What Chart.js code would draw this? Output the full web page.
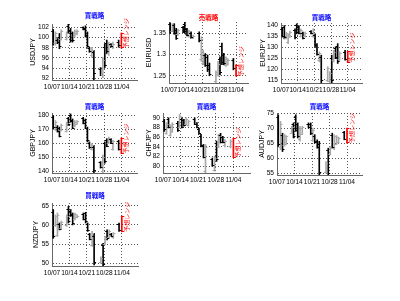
<!DOCTYPE html>
<html><head><meta charset="utf-8">
<script src="https://cdn.jsdelivr.net/npm/chart.js@4"></script>
<style>
html,body{margin:0;padding:0;background:#fff;}
body{width:400px;height:301px;position:relative;overflow:hidden;}
canvas{position:absolute;}
</style></head><body>
<script>
// ---------- data ----------
const dateLabels = ['10/07','10/14','10/21','10/28','11/04'];
const dateTicks = [0, 7, 14, 21, 28];
const days = [0.5,1.4,2.2,3.0,3.7, 5.9,6.6,7.5,8.3,9.2,10.1, 12.6,13.5,14.3,15.1,16.1,16.9, 19.6,20.5,21.3,22.1,22.9,23.8,24.6, 26.9];
const rangeDay = 28;
const pairs = ['USDJPY','EURUSD','EURJPY','GBPJPY','CHFJPY','AUDJPY','NZDJPY'];
const strategies = ['買戦略','売戦略','買戦略','買戦略','買戦略','買戦略','買戦略'];
const rangeLabel = '予想レンジ';

const usdjpyOpen  = [101.2,99.0,99.6,100.2,99.8, 99.8,102.2,101.4,100.8,100.4,100.8, 102.0,101.9,100.5,98.0,96.6,97.2, 93.8,92.8,98.2,99.0,97.0,98.7,98.2, 99.2];
const usdjpyHigh  = [101.6,101.1,99.8,100.8,101.5, 101.1,102.6,101.8,101.1,101.5,101.5, 102.1,102.3,101.1,98.1,98.1,97.5, 94.1,96.1,98.8,99.5,99.1,98.8,99.1, 99.5];
const usdjpyLow   = [98.5,98.5,98.8,97.8,99.5, 99.5,100.8,99.1,99.1,100.1,100.5, 101.5,100.1,98.1,97.1,96.1,91.7, 92.5,92.1,94.1,96.8,96.5,98.1,97.8, 98.1];
const usdjpyClose = [99.0,100.8,99.2,98.4,101.2, 100.8,101.2,99.6,99.5,101.2,101.3, 101.7,100.5,98.4,97.3,97.6,93.0, 92.8,95.6,94.6,97.4,98.6,98.3,98.8, 98.5];

const eurusdOpen  = [1.372,1.356,1.369,1.358,1.348, 1.365,1.372,1.360,1.344,1.352,1.340, 1.350,1.290,1.280,1.298,1.294,1.276, 1.238,1.254,1.290,1.320,1.299,1.276,1.278, 1.287];
const eurusdHigh  = [1.375,1.373,1.373,1.362,1.360, 1.367,1.377,1.362,1.358,1.354,1.346, 1.354,1.342,1.311,1.303,1.299,1.280, 1.262,1.284,1.295,1.327,1.303,1.295,1.290, 1.291];
const eurusdLow   = [1.350,1.354,1.348,1.336,1.345, 1.352,1.350,1.344,1.341,1.338,1.338, 1.330,1.284,1.276,1.272,1.260,1.250, 1.233,1.249,1.252,1.276,1.276,1.272,1.275, 1.264];
const eurusdClose = [1.355,1.369,1.352,1.340,1.357, 1.355,1.356,1.347,1.355,1.341,1.344, 1.334,1.336,1.305,1.276,1.265,1.254, 1.258,1.279,1.258,1.282,1.280,1.291,1.287, 1.268];

const eurjpyOpen  = [138.6,139.2,134.4,132.4,135.0, 137.9,140.2,139.5,135.3,136.5,135.1, 137.5,135.2,135.6,131.2,124.0,125.6, 115.0,114.3,125.2,124.0,129.5,130.8,124.5, 128.0];
const eurjpyHigh  = [139.2,140.0,137.0,136.2,137.5, 138.5,140.8,140.0,138.5,137.0,137.0, 137.7,138.5,136.2,131.7,127.9,126.4, 121.1,118.8,126.4,128.6,130.2,131.7,128.0, 128.6];
const eurjpyLow   = [134.7,133.9,133.9,131.7,134.5, 133.9,136.2,136.2,134.7,133.9,134.7, 136.2,134.7,130.2,126.4,123.3,113.6, 114.2,113.6,113.6,123.3,124.8,122.6,124.0, 124.1];
const eurjpyClose = [135.4,134.6,136.5,135.6,137.0, 134.6,136.9,136.8,138.0,134.4,136.6, 136.4,138.0,130.9,127.0,127.2,115.2, 120.4,118.0,115.0,128.0,125.5,123.5,127.4, 124.8];

const gbpjpyOpen  = [178.8,170.2,172.2,171.0,169.8, 169.0,178.0,180.4,176.8,172.6,174.2, 178.2,176.8,171.0,160.6,156.0,157.8, 146.6,140.0,160.2,162.8,160.6,163.0,156.2, 161.6];
const gbpjpyHigh  = [180.0,176.5,172.9,171.8,174.0, 175.3,178.8,181.2,177.6,176.5,176.5, 178.8,177.6,171.8,161.2,160.0,158.8, 147.1,151.8,161.2,163.5,164.7,163.5,162.4, 162.4];
const gbpjpyLow   = [170.6,169.4,168.2,164.7,169.0, 168.2,173.0,175.3,170.6,172.0,173.8, 174.1,170.6,161.2,156.5,155.3,138.9, 142.4,138.9,145.9,157.7,160.0,160.0,155.3, 155.3];
const gbpjpyClose = [171.8,175.6,169.0,165.6,173.2, 174.4,173.8,176.2,171.4,175.8,176.0, 174.8,171.5,162.4,157.2,159.2,141.0, 143.0,150.6,147.2,158.4,164.0,160.5,161.5, 156.2];

const chfjpyOpen  = [89.4,86.9,89.7,86.5,87.3, 89.0,88.2,89.7,89.5,88.8,88.5, 89.8,88.8,87.7,86.3,84.2,79.0, 81.5,79.3,84.8,84.1,86.5,86.0,84.3, 84.1];
const chfjpyHigh  = [89.7,89.0,90.0,88.6,89.0, 89.3,90.7,90.0,89.7,90.0,89.5, 90.0,89.0,87.9,86.6,84.5,84.5, 81.7,82.1,85.2,86.6,86.8,86.2,85.5, 85.5];
const chfjpyLow   = [87.2,86.6,87.9,86.2,87.0, 87.2,87.9,87.9,88.3,88.6,88.3, 88.6,87.9,86.6,84.0,81.7,78.6, 80.0,79.0,81.0,83.8,84.8,84.8,84.0, 83.8];
const chfjpyClose = [87.6,88.7,88.2,88.3,88.7, 87.5,90.4,88.2,88.5,89.8,89.3, 88.8,88.1,86.8,84.3,82.0,84.0, 80.2,81.8,81.4,86.3,85.1,85.0,85.2, 85.2];

const audjpyOpen  = [73.6,63.6,67.6,64.4,64.8, 68.5,71.2,73.8,71.2,66.2,68.1, 71.5,71.2,66.0,67.5,65.8,64.8, 55.4,62.6,61.4,67.8,63.3,64.8,65.3, 68.6];
const audjpyHigh  = [74.4,72.2,68.3,68.0,67.5, 70.6,71.7,74.4,71.7,70.6,70.6, 71.7,71.7,70.0,67.8,66.1,65.6, 58.9,63.3,63.9,68.3,67.8,67.5,67.0, 68.9];
const audjpyLow   = [63.9,62.8,62.2,64.0,64.5, 68.3,66.7,68.9,66.7,65.6,67.8, 70.0,67.8,65.6,65.0,63.3,54.4, 55.0,54.4,61.1,63.3,62.8,64.5,65.0, 66.1];
const audjpyClose = [64.8,71.4,62.9,67.5,67.2, 70.3,67.3,69.5,67.3,70.0,70.2, 70.3,68.3,69.5,65.3,63.6,55.4, 58.4,55.2,63.5,63.8,67.2,67.1,66.7, 66.4];

const nzdjpyOpen  = [63.4,59.9,57.5,60.2,59.3, 60.0,64.2,63.7,62.8,61.6,62.0, 62.9,63.0,60.2,57.6,54.8,57.2, 50.3,54.8,55.1,58.4,56.8,57.7,56.8, 60.2];
const nzdjpyHigh  = [64.0,62.6,63.1,60.5,61.0, 62.6,64.8,64.0,63.1,63.1,62.6, 63.1,63.3,60.5,57.8,58.3,57.8, 51.7,55.2,57.0,58.7,58.7,57.8,58.0, 60.5];
const nzdjpyLow   = [56.5,59.6,57.0,58.7,59.0, 59.6,60.5,62.2,60.0,61.3,61.8, 61.3,60.5,58.3,56.1,54.4,49.6, 50.0,49.3,54.8,56.1,56.5,57.0,56.5, 58.3];
const nzdjpyClose = [57.2,62.2,62.6,59.0,60.7, 62.2,61.0,62.5,60.4,62.8,62.4, 61.6,60.9,58.6,56.4,57.9,50.4, 51.4,49.9,56.7,56.5,58.4,57.2,57.8, 58.6];

const forecastLow  = [97.9, 1.249, 123.0, 152.8, 81.8, 65.0, 58.2];
const forecastHigh = [100.9, 1.276, 128.3, 164.0, 85.8, 70.0, 62.3];

const usdjpyTicks = [92, 94, 96, 98, 100, 102];
const eurusdTicks = [1.25, 1.3, 1.35];
const eurjpyTicks = [115, 120, 125, 130, 135, 140];
const gbpjpyTicks = [140, 150, 160, 170, 180];
const chfjpyTicks = [80, 82, 84, 86, 88, 90];
const audjpyTicks = [55, 60, 65, 70, 75];
const nzdjpyTicks = [50, 55, 60, 65];
const yMin = [91.66, 1.233, 113.6, 138.9, 78.6, 54.4, 49.3];
const yMax = [102.66, 1.377, 141.2, 181.9, 91.0, 75.0, 65.7];
const xMax = [34.3, 33, 34, 34.3, 34.6, 34, 34.5];

// ---------- assembly ----------
const series = [
  {open: usdjpyOpen, high: usdjpyHigh, low: usdjpyLow, close: usdjpyClose, ticks: usdjpyTicks},
  {open: eurusdOpen, high: eurusdHigh, low: eurusdLow, close: eurusdClose, ticks: eurusdTicks},
  {open: eurjpyOpen, high: eurjpyHigh, low: eurjpyLow, close: eurjpyClose, ticks: eurjpyTicks},
  {open: gbpjpyOpen, high: gbpjpyHigh, low: gbpjpyLow, close: gbpjpyClose, ticks: gbpjpyTicks},
  {open: chfjpyOpen, high: chfjpyHigh, low: chfjpyLow, close: chfjpyClose, ticks: chfjpyTicks},
  {open: audjpyOpen, high: audjpyHigh, low: audjpyLow, close: audjpyClose, ticks: audjpyTicks},
  {open: nzdjpyOpen, high: nzdjpyHigh, low: nzdjpyLow, close: nzdjpyClose, ticks: nzdjpyTicks}
];

// layout (plot rectangles in page pixels)
const boxes = [
  {x0:52,  x1:137, y0:24,  y1:80,  ty:16,    yl:19},
  {x0:169, x1:248, y0:22,  y1:83,  ty:17.5,  yl:20},
  {x0:281, x1:362, y0:23,  y1:83,  ty:17.5,  yl:17.7},
  {x0:52,  x1:137, y0:113, y1:173, ty:106.5, yl:19},
  {x0:163, x1:250, y0:113, y1:173, ty:106.5, yl:14},
  {x0:277, x1:362, y0:113, y1:175, ty:106.5, yl:14.7},
  {x0:52,  x1:138, y0:203, y1:266, ty:196,   yl:15.6}
];
const LEFT = 50, TOP = 20, RIGHT = 35, BOTTOM = 16;
const DOWN = '#000000', UP = '#a8a8a8', RED = '#ff0000', BLUE = '#0000ff';
const GRID = '#555555', AXIS = '#666666';
const TICKFONT = {family: '"Liberation Sans", Arial, sans-serif', size: 6.6};
const CJK = '"Noto Sans CJK JP", sans-serif';

const ohlcPlugin = {
  id: 'ohlcTicks',
  afterDatasetsDraw(chart, args, o) {
    const {ctx, chartArea} = chart;
    const x = chart.scales.x, y = chart.scales.y;
    const s = series[o.k];
    ctx.save();
    ctx.lineWidth = 1;
    for (let i = 0; i < days.length; i++) {
      const px = x.getPixelForValue(days[i]);
      ctx.strokeStyle = s.close[i] < s.open[i] ? DOWN : UP;
      const yo = Math.round(y.getPixelForValue(s.open[i])) + 0.5;
      const yc = Math.round(y.getPixelForValue(s.close[i])) + 0.5;
      ctx.beginPath();
      ctx.moveTo(px - 2, yo); ctx.lineTo(px, yo);
      ctx.moveTo(px, yc); ctx.lineTo(px + 2, yc);
      ctx.stroke();
    }
    // forecast range bracket ends + label
    const rx = x.getPixelForValue(rangeDay);
    const lo = y.getPixelForValue(forecastLow[o.k]);
    const hi = y.getPixelForValue(forecastHigh[o.k]);
    ctx.strokeStyle = RED;
    ctx.beginPath();
    ctx.moveTo(rx - 0.5, Math.round(lo) - 0.5); ctx.lineTo(rx + 2.5, Math.round(lo) - 0.5);
    ctx.moveTo(rx - 0.5, Math.round(hi) + 0.5); ctx.lineTo(rx + 2.5, Math.round(hi) + 0.5);
    ctx.stroke();
    ctx.save();
    ctx.translate(rx + 4.5, lo);
    ctx.rotate(-Math.PI / 2);
    ctx.fillStyle = RED;
    ctx.font = '6px ' + CJK;
    ctx.textAlign = 'left';
    ctx.textBaseline = 'middle';
    ctx.fillText(rangeLabel, 0, 0);
    ctx.restore();
    // title centred over the plot
    ctx.fillStyle = o.k === 1 ? RED : BLUE;
    ctx.font = 'bold 6.5px ' + CJK;
    ctx.textAlign = 'center';
    ctx.textBaseline = 'middle';
    ctx.fillText(strategies[o.k], (chartArea.left + chartArea.right) / 2, o.ty);
    ctx.restore();
  }
};

boxes.forEach((b, k) => {
  const s = series[k];
  const cv = document.createElement('canvas');
  const w = b.x1 - b.x0 + LEFT + RIGHT;
  const h = b.y1 - b.y0 + TOP + BOTTOM;
  cv.width = w; cv.height = h;
  cv.style.left = (b.x0 - LEFT) + 'px';
  cv.style.top = (b.y0 - TOP) + 'px';
  cv.style.width = w + 'px'; cv.style.height = h + 'px';
  document.body.appendChild(cv);
  new Chart(cv, {
    type: 'bar',
    data: {
      datasets: [
        {
          data: days.map((d, i) => ({x: d, y: [s.low[i], s.high[i]]})),
          backgroundColor: days.map((d, i) => s.close[i] < s.open[i] ? DOWN : UP),
          barThickness: 1, grouped: false, borderWidth: 0
        },
        {
          data: [{x: rangeDay, y: [forecastLow[k], forecastHigh[k]]}],
          backgroundColor: RED, barThickness: 1, grouped: false, borderWidth: 0
        }
      ]
    },
    options: {
      responsive: false, animation: false, devicePixelRatio: 1,
      layout: {padding: {left: 0, top: TOP, right: RIGHT, bottom: 0}},
      plugins: {
        legend: {display: false}, tooltip: {enabled: false}, title: {display: false},
        ohlcTicks: {k: k, ty: b.ty - (b.y0 - TOP)}
      },
      scales: {
        x: {
          type: 'linear', min: 0, max: xMax[k], offset: false,
          afterBuildTicks: sc => { sc.ticks = dateTicks.map(v => ({value: v})); },
          afterFit: sc => { sc.height = BOTTOM; },
          ticks: {autoSkip: false, maxRotation: 0, minRotation: 0, padding: 3, color: '#000', font: TICKFONT,
                  callback: (v, i) => dateLabels[i]},
          grid: {color: GRID, drawTicks: false, offset: false, lineWidth: 1},
          border: {color: AXIS, dash: [1, 2], width: 1}
        },
        y: {
          type: 'linear', min: yMin[k], max: yMax[k],
          afterBuildTicks: sc => { sc.ticks = s.ticks.map(v => ({value: v})); },
          afterFit: sc => { sc.width = LEFT; },
          ticks: {autoSkip: false, padding: 3, color: '#000', font: TICKFONT, callback: v => String(v)},
          grid: {color: GRID, drawTicks: false, lineWidth: 1},
          border: {color: AXIS, dash: [1, 2], width: 1},
          title: {display: true, text: pairs[k], color: '#000', font: {family: TICKFONT.family, size: 7, lineHeight: 1.2},
                  padding: {top: LEFT - b.yl - 4.2, bottom: 0}}
        }
      }
    },
    plugins: [ohlcPlugin]
  });
});
</script>
</body></html>
